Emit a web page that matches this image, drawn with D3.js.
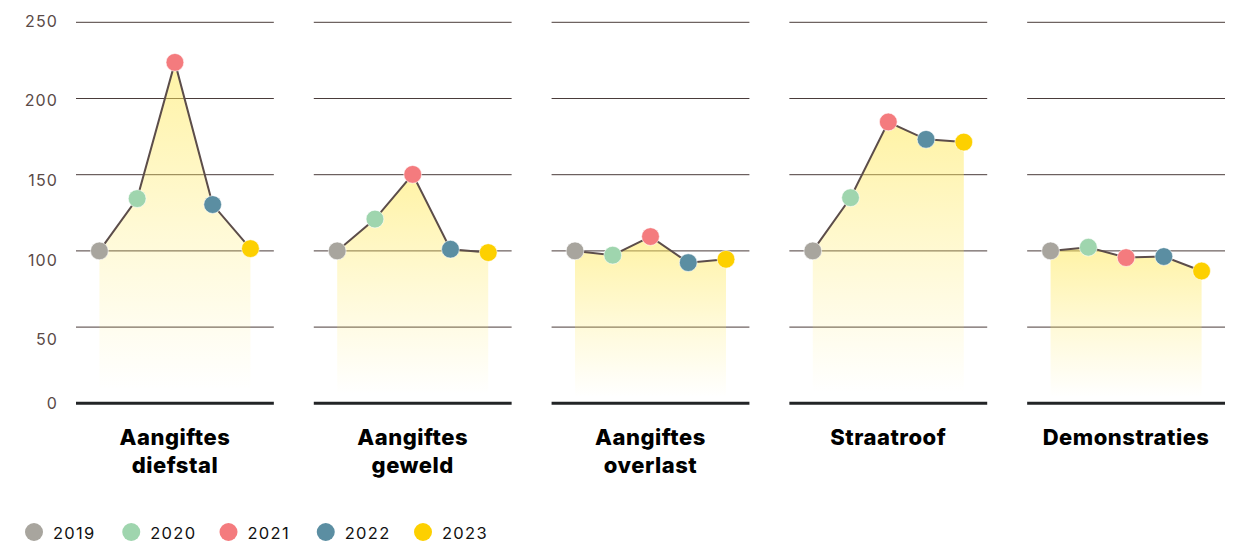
<!DOCTYPE html>
<html><head><meta charset="utf-8">
<script src="https://cdn.jsdelivr.net/npm/d3@7"></script>
<style>
html,body{margin:0;padding:0;background:#fff;}
svg{display:block;}
</style></head>
<body>
<svg id="chart" width="1239" height="542"></svg>
<script>
const categories = [["Aangiftes","diefstal"],["Aangiftes","geweld"],["Aangiftes","overlast"],["Straatroof"],["Demonstraties"]];
const years = ["2019","2020","2021","2022","2023"];
const yearColors = ["#a8a59e","#9fd5ae","#f47b7e","#5b8ea2","#fdd000"];
const diefstal = [100, 134.3, 223.7, 130.4, 101.5];
const geweld = [100, 120.9, 150.2, 101.1, 98.9];
const overlast = [100, 97.2, 109.4, 92.3, 94.5];
const straatroof = [100, 134.9, 184.6, 173.2, 171.4];
const demonstraties = [100, 102.4, 95.6, 96.3, 86.8];
const seriesValues = [diefstal, geweld, overlast, straatroof, demonstraties];
const yTicks = [0, 50, 100, 150, 200, 250];

const svg = d3.select("#chart");
const y = d3.scaleLinear().domain([0, 250]).range([403.3, 22.3]);
// tick labels are laid out on their own even spacing (as in the source)
const yLab = d3.scaleLinear().domain([50, 250]).range([339.5, 21]);
const labelY = d => d === 0 ? y(0) - 0.5 : yLab(d);

const catKeys = categories.map(c => c.join(" "));
const panel = d3.scaleBand().domain(catKeys).range([76, 1225]).paddingInner(0.168).paddingOuter(0);
const x = d3.scalePoint().domain(years).range([0, panel.bandwidth()]).padding(0.62);
const color = d3.scaleOrdinal().domain(years).range(yearColors);

const defs = svg.append("defs");
const grad = defs.append("linearGradient").attr("id","fillGrad").attr("x1",0).attr("y1",0).attr("x2",0).attr("y2",1);
grad.append("stop").attr("offset","0").attr("stop-color","#ffe95c").attr("stop-opacity",0.55);
grad.append("stop").attr("offset","0.5").attr("stop-color","#ffe95c").attr("stop-opacity",0.25);
grad.append("stop").attr("offset","0.96").attr("stop-color","#ffe95c").attr("stop-opacity",0);

// y-axis labels
svg.append("g").selectAll("text").data(yTicks).join("text")
  .attr("x", 58).attr("y", labelY).attr("dy","0.36em")
  .attr("text-anchor","end")
  .attr("font-family","Inter, 'DejaVu Sans', sans-serif")
  .attr("font-size", 16).attr("fill","#5a4a47").attr("letter-spacing","1.1")
  .text(d => d);

const panels = svg.append("g").selectAll("g.panel").data(catKeys).join("g")
  .attr("class","panel")
  .attr("transform", d => `translate(${panel(d)},0)`);

panels.each(function(key, i) {
  const g = d3.select(this);
  const vals = seriesValues[i].map((v, j) => ({year: years[j], v}));
  g.selectAll("line.grid").data(yTicks.filter(t => t > 0)).join("line")
    .attr("class","grid")
    .attr("x1", 0).attr("x2", panel.bandwidth())
    .attr("y1", d => y(d)).attr("y2", d => y(d))
    .attr("stroke","#4a3c3a").attr("stroke-width",1);
  const area = d3.area().x(d => x(d.year)).y0(y(0)).y1(d => y(d.v));
  g.append("path").datum(vals).attr("d", area).attr("fill","url(#fillGrad)");
  const line = d3.line().x(d => x(d.year)).y(d => y(d.v));
  g.append("path").datum(vals).attr("d", line).attr("fill","none")
    .attr("stroke","#5c4d4a").attr("stroke-width",2);
  g.append("line").attr("x1",0).attr("x2",panel.bandwidth())
    .attr("y1", y(0)).attr("y2", y(0)).attr("stroke","#222426").attr("stroke-width",3);
  g.selectAll("circle").data(vals).join("circle")
    .attr("cx", d => x(d.year)).attr("cy", d => y(d.v)).attr("r", 8.9)
    .attr("fill", d => color(d.year)).attr("stroke","#ffffff").attr("stroke-width",0.6);
  const t = g.append("text").attr("text-anchor","middle")
    .attr("font-family","Inter, 'DejaVu Sans', sans-serif")
    .attr("font-weight",800).attr("font-size",22).attr("fill","#000")
    .attr("letter-spacing","0.5");
  categories[i].forEach((ln, k) => {
    t.append("tspan").attr("x", panel.bandwidth()/2).attr("y", 445 + k*28).text(ln);
  });
});

// legend
const legX = d3.scalePoint().domain(years).range([34, 423]);
const leg = svg.append("g").selectAll("g").data(years).join("g")
  .attr("transform", d => `translate(${legX(d)},532)`);
leg.append("circle").attr("r", 9).attr("fill", d => color(d));
leg.append("text").attr("x", 19).attr("dy","0.4em")
  .attr("font-family","Inter, 'DejaVu Sans', sans-serif")
  .attr("font-size",16.5).attr("fill","#111").attr("letter-spacing","1.3")
  .text(d => d);
</script>
</body></html>
